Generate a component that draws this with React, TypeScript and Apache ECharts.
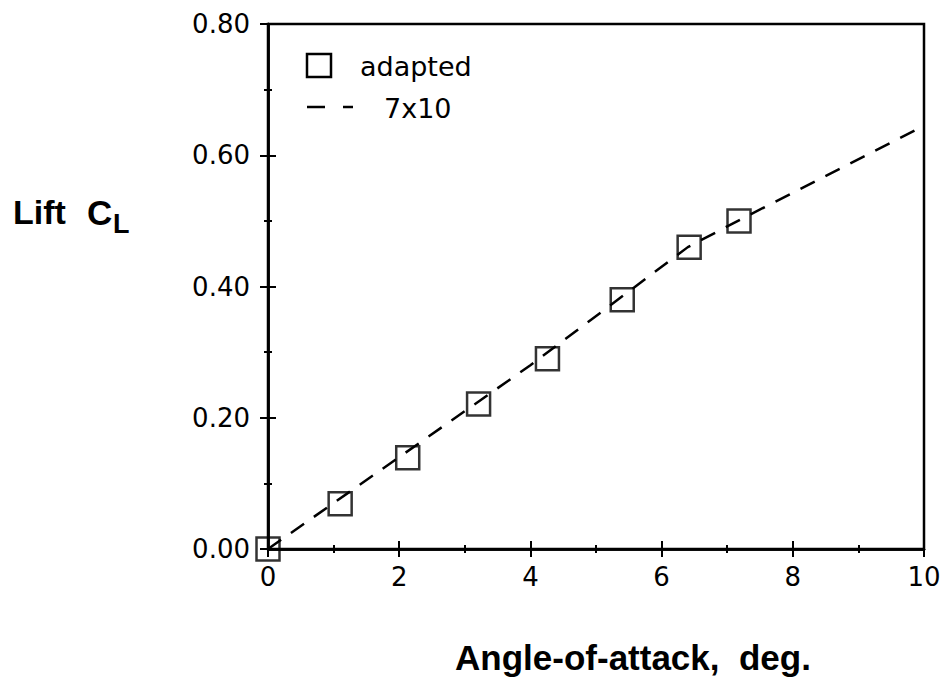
import React, { useEffect, useRef } from "react";
import * as echarts from "echarts";

// Wind-tunnel lift data: adapted-wall test points and the 7x10 reference curve
const angleAdapted = [0, 1.1, 2.13, 3.21, 4.26, 5.4, 6.42, 7.18];
const liftAdapted = [0, 0.069, 0.139, 0.221, 0.29, 0.38, 0.46, 0.5];
const angle7x10 = [0, 2, 4, 5.4, 6.4, 7.2, 10];
const lift7x10 = [0, 0.14, 0.28, 0.385, 0.46, 0.502, 0.645];
const xTicks = [0, 2, 4, 6, 8, 10];
const yTicks = [0, 0.2, 0.4, 0.6, 0.8];

const LABEL_FONT = "DejaVu Sans";
const TITLE_FONT = "Liberation Sans";

export default function App() {
  const ref = useRef<HTMLDivElement>(null);

  useEffect(() => {
    if (!ref.current) return;
    const chart = echarts.init(ref.current, null, { renderer: "svg" });

    const axisLine = { show: true, lineStyle: { color: "#000", width: 2.5 } };
    const tickStyle = { color: "#000", width: 2 };
    const xBase = {
      type: "value" as const,
      position: "bottom" as const,
      min: xTicks[0],
      max: xTicks[xTicks.length - 1],
      interval: 2,
      axisLine,
      splitLine: { show: false },
      minorSplitLine: { show: false },
    };
    const yBase = {
      type: "value" as const,
      position: "left" as const,
      min: yTicks[0],
      max: yTicks[yTicks.length - 1],
      interval: 0.2,
      axisLine,
      splitLine: { show: false },
      minorSplitLine: { show: false },
    };

    chart.setOption({
      animation: false,
      backgroundColor: "#fff",
      grid: {
        left: 268,
        right: 23,
        top: 24,
        bottom: 149,
        show: true,
        borderColor: "#000",
        borderWidth: 2.5,
        backgroundColor: "transparent",
      },
      xAxis: [
        {
          ...xBase,
          axisTick: { show: true, inside: false, length: 8, lineStyle: tickStyle },
          minorTick: { show: true, splitNumber: 2, length: 4, lineStyle: tickStyle },
          axisLabel: {
            show: true,
            margin: 15,
            color: "#000",
            fontFamily: LABEL_FONT,
            fontSize: 26,
            formatter: (v: number) => String(v),
          },
        },
        {
          ...xBase,
          axisTick: { show: true, inside: true, length: 8, lineStyle: tickStyle },
          minorTick: { show: true, splitNumber: 2, length: 4, lineStyle: tickStyle },
          axisLabel: { show: false },
        },
      ],
      yAxis: [
        {
          ...yBase,
          axisTick: { show: true, inside: false, length: 8, lineStyle: tickStyle },
          minorTick: { show: true, splitNumber: 2, length: 4, lineStyle: tickStyle },
          axisLabel: {
            show: true,
            margin: 18,
            color: "#000",
            fontFamily: LABEL_FONT,
            fontSize: 26,
            formatter: (v: number) => v.toFixed(2),
          },
        },
        {
          ...yBase,
          axisTick: { show: true, inside: true, length: 8, lineStyle: tickStyle },
          minorTick: { show: true, splitNumber: 2, length: 4, lineStyle: tickStyle },
          axisLabel: { show: false },
        },
      ],
      series: [
        {
          name: "7x10",
          type: "line",
          xAxisIndex: 0,
          yAxisIndex: 0,
          data: angle7x10.map((a, i) => [a, lift7x10[i]]),
          showSymbol: false,
          symbol: "none",
          lineStyle: { color: "#000", width: 2.5, type: [16, 12] },
          z: 2,
        },
        {
          name: "adapted",
          type: "scatter",
          xAxisIndex: 0,
          yAxisIndex: 0,
          data: angleAdapted.map((a, i) => [a, liftAdapted[i]]),
          symbol: "rect",
          symbolSize: 23,
          itemStyle: { color: "none", borderColor: "#000", borderWidth: 2.5 },
          z: 3,
        },
      ],
      graphic: [
        // legend
        {
          type: "rect",
          shape: { x: 307, y: 54, width: 24, height: 23 },
          style: { fill: "none", stroke: "#000", lineWidth: 2.5 },
        },
        {
          type: "text",
          x: 360,
          y: 66,
          style: {
            text: "adapted",
            font: `27px "${LABEL_FONT}"`,
            fill: "#000",
            verticalAlign: "middle",
          },
        },
        {
          type: "line",
          shape: { x1: 307, y1: 107, x2: 325, y2: 107 },
          style: { stroke: "#000", lineWidth: 2.5 },
        },
        {
          type: "line",
          shape: { x1: 343, y1: 107, x2: 353, y2: 107 },
          style: { stroke: "#000", lineWidth: 2.5 },
        },
        {
          type: "text",
          x: 384,
          y: 108,
          style: {
            text: "7x10",
            font: `27px "${LABEL_FONT}"`,
            fill: "#000",
            verticalAlign: "middle",
          },
        },
        // y-axis title with subscript
        {
          type: "text",
          x: 13,
          y: 195,
          style: {
            text: "Lift",
            font: `bold 34px "${TITLE_FONT}"`,
            fill: "#000",
            verticalAlign: "top",
          },
        },
        {
          type: "text",
          x: 87,
          y: 195,
          style: {
            text: "C",
            font: `bold 35px "${TITLE_FONT}"`,
            fill: "#000",
            verticalAlign: "top",
          },
        },
        {
          type: "text",
          x: 113,
          y: 210,
          style: {
            text: "L",
            font: `bold 27px "${TITLE_FONT}"`,
            fill: "#000",
            verticalAlign: "top",
          },
        },
        // x-axis title
        {
          type: "text",
          x: 633,
          y: 640,
          style: {
            text: "Angle-of-attack,  deg.",
            font: `bold 35px "${TITLE_FONT}"`,
            fill: "#000",
            align: "center",
            verticalAlign: "top",
          },
        },
      ],
    });

    return () => chart.dispose();
  }, []);

  return (
    <div
      ref={ref}
      style={{ position: "fixed", left: 0, top: 0, width: 947, height: 698 }}
    />
  );
}
